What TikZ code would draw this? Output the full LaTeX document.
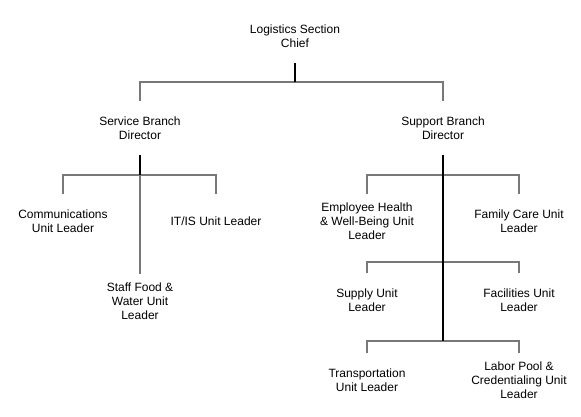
\documentclass[tikz,border=0pt]{standalone}
\usepackage{fontspec}
\setmainfont{Liberation Sans}
\definecolor{busgray}{gray}{0.47}

\begin{document}
\begin{tikzpicture}[x=1pt,y=-1pt,
        unit/.style={minimum width=100pt,minimum height=53pt,inner sep=0pt,
                align=center,font=\fontsize{12}{14}\selectfont},
        stem/.style={line width=2pt,black},
        bus/.style={line width=1.5pt,busgray}]

        \useasboundingbox (0,0) rectangle (581,416);

	\def \xl {140}
	\def \xr {443}

        % section chief and branch directors
        \node[unit] (chief)   at (295,36)  {Logistics Section\\Chief};
        \node[unit] (service) at (\xl,128) {Service Branch\\Director};
        \node[unit] (support) at (\xr,128) {Support Branch\\Director};

        % service branch units
        \node[unit] (comms) at (63,221)   {Communications\\Unit Leader};
        \node[unit] (itis)  at (216,221)  {IT/IS Unit Leader};
        \node[unit] (food)  at (\xl,301)  {Staff Food \&\\Water Unit\\Leader};

        % support branch units
        \node[unit] (health) at (367,221) {Employee Health\\\& Well-Being Unit\\Leader};
        \node[unit] (family) at (519,221) {Family Care Unit\\Leader};
        \node[unit] (supply) at (367,300) {Supply Unit\\Leader};
        \node[unit] (facil)  at (519,300) {Facilities Unit\\Leader};
        \node[unit] (transp) at (367,380) {Transportation\\Unit Leader};
        \node[unit] (labor)  at (519,380) {Labor Pool \&\\Credentialing Unit\\Leader};

%%%%%%%%%%%%%%%%%%%%%%%%
        % top level
        \coordinate (topbus) at (295,82);
        \draw[bus] (service.north) |- (topbus) -| (support.north);
        \draw[stem] (chief.south) -- (topbus);

        % service branch
        \coordinate (servicebus) at (\xl,175);
        \draw[bus] (comms.north) |- (servicebus) -| (itis.north);
        \draw[bus] (servicebus) -- (food.north);
        \draw[stem] (service.south) -- (servicebus);

        % support branch
        \foreach \nl/\nr/\yb in {health/family/175, supply/facil/262, transp/labor/341} {
                \coordinate (bus\nl) at (\xr,\yb);
                \draw[bus] (\nl.north) |- (bus\nl) -| (\nr.north);
        }
        \draw[stem] (support.south) -- (bustransp);

\end{tikzpicture}
\end{document}
